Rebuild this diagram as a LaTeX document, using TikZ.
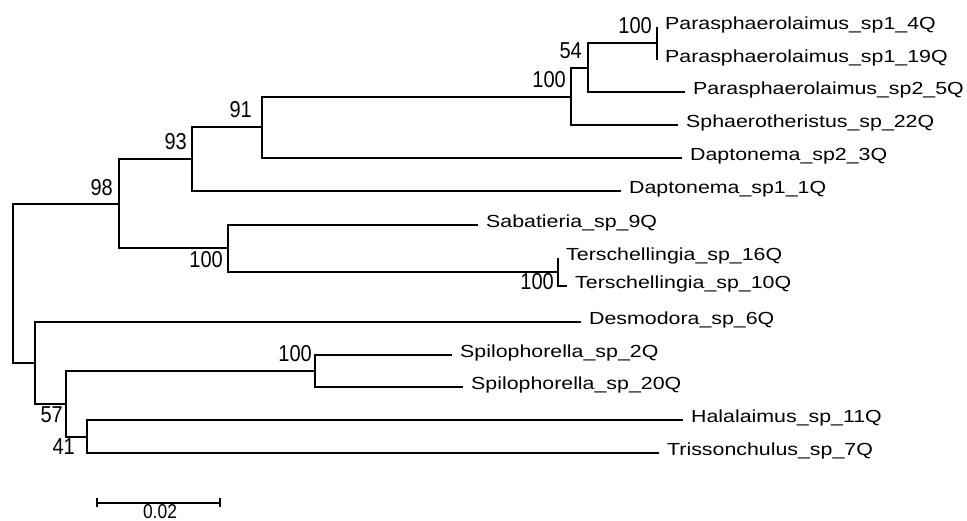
\documentclass[tikz,border=0pt]{standalone}
\usepackage{fontspec}
\newfontfamily\leaffont[FakeStretch=1.22]{Liberation Sans}
\newfontfamily\bootfont[FakeStretch=0.87]{Liberation Sans}
\tikzset{
  branch/.style={line width=2pt, draw=black},
  leaf/.style={anchor=base west, inner sep=0pt, xshift=8pt, yshift=-2.5pt,
    font=\leaffont\fontsize{17.5}{20}\selectfont},
  boot/.style={anchor=base east, inner sep=0pt,
    font=\bootfont\fontsize{23}{26}\selectfont},
}
\begin{document}
\begin{tikzpicture}[x=1pt,y=-1pt]
\useasboundingbox (0,0) rectangle (967,521);
\clip (0,0) rectangle (967,521);
\fill[white] (0,0) rectangle (967,521);
% leaf tips
\coordinate (t1) at (657,27);
\coordinate (t2) at (657,60);
\coordinate (t3) at (685,92);
\coordinate (t4) at (678,125);
\coordinate (t5) at (682,158);
\coordinate (t6) at (621,191);
\coordinate (t7) at (478,225);
\coordinate (t8) at (558,258);
\coordinate (t9) at (567,286);
\coordinate (t10) at (581,322);
\coordinate (t11) at (452,355);
\coordinate (t12) at (463,387);
\coordinate (t13) at (683,420);
\coordinate (t14) at (659,453);
% internal nodes
\coordinate (nA) at (657,43);
\coordinate (nB) at (588,68);
\coordinate (nC) at (571,97);
\coordinate (nD) at (262,127);
\coordinate (nE) at (192,159);
\coordinate (nF) at (558,272);
\coordinate (nG) at (228,248);
\coordinate (nH) at (119,204);
\coordinate (nI) at (315,371);
\coordinate (nJ) at (87,437);
\coordinate (nK) at (66,404);
\coordinate (nL) at (35,363);
\coordinate (root) at (13,283);
% branches
\draw[branch] (nA) |- (t1) (nA) |- (t2);
\draw[branch] (nB) |- (nA) (nB) |- (t3);
\draw[branch] (nC) |- (nB) (nC) |- (t4);
\draw[branch] (nD) |- (nC) (nD) |- (t5);
\draw[branch] (nE) |- (nD) (nE) |- (t6);
\draw[branch] (nF) |- (t8) (nF) |- (t9);
\draw[branch] (nG) |- (t7) (nG) |- (nF);
\draw[branch] (nH) |- (nE) (nH) |- (nG);
\draw[branch] (nI) |- (t11) (nI) |- (t12);
\draw[branch] (nJ) |- (t13) (nJ) |- (t14);
\draw[branch] (nK) |- (nI) (nK) |- (nJ);
\draw[branch] (nL) |- (t10) (nL) |- (nK);
\draw[branch] (root) |- (nH) (root) |- (nL);
% leaf labels
\node[leaf] (l1) at (t1) {Parasphaerolaimus\_sp1\_4Q};
\node[leaf] (l2) at (t2) {Parasphaerolaimus\_sp1\_19Q};
\node[leaf] (l3) at (t3) {Parasphaerolaimus\_sp2\_5Q};
\node[leaf] (l4) at (t4) {Sphaerotheristus\_sp\_22Q};
\node[leaf] (l5) at (t5) {Daptonema\_sp2\_3Q};
\node[leaf] (l6) at (t6) {Daptonema\_sp1\_1Q};
\node[leaf] (l7) at (t7) {Sabatieria\_sp\_9Q};
\node[leaf] (l8) at (t8) {Terschellingia\_sp\_16Q};
\node[leaf] (l9) at (t9) {Terschellingia\_sp\_10Q};
\node[leaf] (l10) at (t10) {Desmodora\_sp\_6Q};
\node[leaf] (l11) at (t11) {Spilophorella\_sp\_2Q};
\node[leaf] (l12) at (t12) {Spilophorella\_sp\_20Q};
\node[leaf] (l13) at (t13) {Halalaimus\_sp\_11Q};
\node[leaf] (l14) at (t14) {Trissonchulus\_sp\_7Q};
% bootstrap values
\node[boot] (bA) at (652,34) {100};
\node[boot] (bB) at (582,59) {54};
\node[boot] (bC) at (566,88) {100};
\node[boot] (bD) at (252,118) {91};
\node[boot] (bE) at (187,150) {93};
\node[boot] (bH) at (113,196) {98};
\node[boot] (bG) at (223,268) {100};
\node[boot] (bF) at (554,290) {100};
\node[boot] (bI) at (312,362) {100};
\node[boot] (bK) at (63,422) {57};
\node[boot] (bJ) at (75,454) {41};
% scale bar
\coordinate (s1) at (97,503);
\coordinate (s2) at (220,503);
\draw[branch] (s1) -- (s2);
\draw[branch] ([yshift=5pt]s1) -- ([yshift=-4pt]s1);
\draw[branch] ([yshift=5pt]s2) -- ([yshift=-4pt]s2);
\node[boot, anchor=base, font=\bootfont\fontsize{20}{22}\selectfont] (sl) at (160,518) {0.02};
\end{tikzpicture}
\end{document}
